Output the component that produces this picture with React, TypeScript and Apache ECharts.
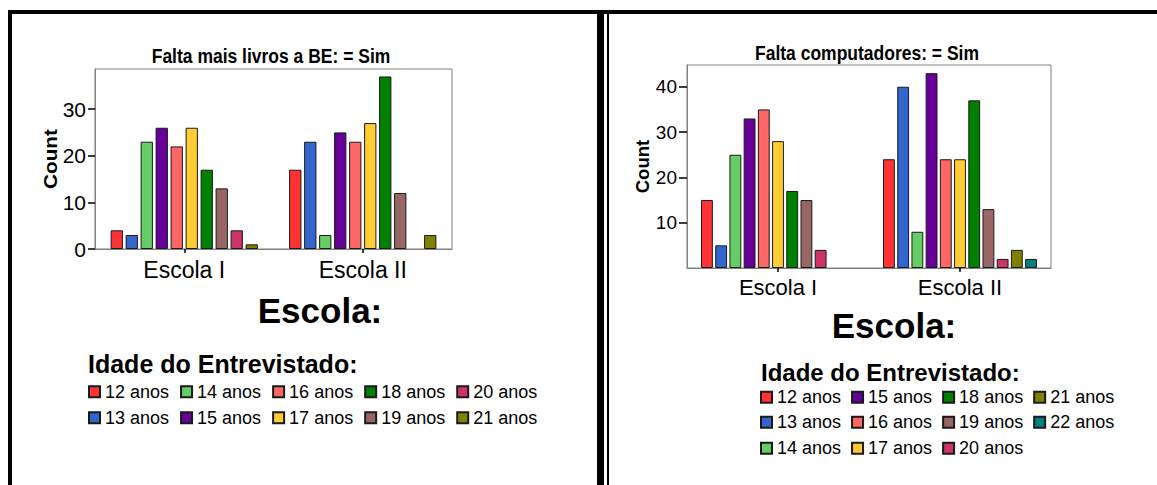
import React, { useEffect, useRef } from "react";
import * as echarts from "echarts";

const FONT = "'Liberation Sans', Arial, sans-serif";

const ages = ["12 anos", "13 anos", "14 anos", "15 anos", "16 anos", "17 anos", "18 anos", "19 anos", "20 anos", "21 anos", "22 anos"];
const ageColors = ["#FF3333", "#3366CC", "#66CC66", "#660099", "#FF6666", "#FFCC33", "#008000", "#996666", "#CC3366", "#808000", "#008080"];
const schools = ["Escola I", "Escola II"];

// Falta mais livros a BE (ages 12..21)
const livrosEscolaI = [4, 3, 23, 26, 22, 26, 17, 13, 4, 1];
const livrosEscolaII = [17, 23, 3, 25, 23, 27, 37, 12, null, 3];
const livrosTicks = [0, 10, 20, 30];

// Falta computadores (ages 12..22)
const compEscolaI = [15, 5, 25, 33, 35, 28, 17, 15, 4, null, null];
const compEscolaII = [24, 40, 8, 43, 24, 24, 37, 13, 2, 4, 2];
const compTicks = [10, 20, 30, 40];

const leftLegendRows = [
  ["12 anos", "14 anos", "16 anos", "18 anos", "20 anos"],
  ["13 anos", "15 anos", "17 anos", "19 anos", "21 anos"],
];
const rightLegendRows = [
  ["12 anos", "15 anos", "18 anos", "21 anos"],
  ["13 anos", "16 anos", "19 anos", "22 anos"],
  ["14 anos", "17 anos", "20 anos"],
];

export default function App() {
  const ref = useRef<HTMLDivElement>(null);

  useEffect(() => {
    if (!ref.current) return;
    const chart = echarts.init(ref.current, undefined, { renderer: "svg" });

    const yAxisBase = (max: number, ticks: number[], fontSize: number, margin: number, tickLen: number) => ({
      type: "value",
      min: 0,
      max,
      splitLine: { show: false },
      axisLine: { show: true, lineStyle: { color: "#808080", width: 1 } },
      axisTick: { show: true, length: tickLen, lineStyle: { color: "#000", width: 1.5 }, customValues: ticks },
      axisLabel: { fontSize, color: "#000", fontFamily: FONT, margin, customValues: ticks },
    });
    const xAxisBase = (gridIndex: number, fontSize: number, margin: number) => ({
      type: "category",
      gridIndex,
      data: schools,
      axisLine: { show: true, lineStyle: { color: "#808080", width: 1 } },
      axisTick: { show: true, alignWithLabel: true, length: 4, lineStyle: { color: "#000", width: 1.5 } },
      axisLabel: { fontSize, color: "#000", fontFamily: FONT, margin },
    });

    const barStyle = (i: number) => ({ color: ageColors[i], borderColor: "#1a1a1a", borderWidth: 1 });

    const series: any[] = [];
    livrosEscolaI.forEach((v, i) => {
      series.push({
        type: "bar",
        name: ages[i],
        xAxisIndex: 0,
        yAxisIndex: 0,
        data: [v, livrosEscolaII[i]],
        barGap: "22%",
        barCategoryGap: "17.5%",
        itemStyle: barStyle(i),
      });
    });
    compEscolaI.forEach((v, i) => {
      series.push({
        type: "bar",
        name: ages[i],
        xAxisIndex: 1,
        yAxisIndex: 1,
        data: [v, compEscolaII[i]],
        barGap: "20%",
        barCategoryGap: "15.4%",
        itemStyle: barStyle(i),
      });
    });

    const legendBase = {
      orient: "horizontal",
      icon: "rect",
      itemWidth: 11,
      itemHeight: 11,
      padding: 0,
      selectedMode: false,
      textStyle: { fontSize: 18, color: "#000", fontFamily: FONT },
    };
    const legends: any[] = [];
    const leftRowCenters = [391.7, 417.7];
    leftLegendRows.forEach((row, r) => {
      legends.push({ ...legendBase, data: row, left: 88, top: leftRowCenters[r] - 9, itemGap: 11 });
    });
    const rightRowCenters = [397.3, 422.3, 448.3];
    rightLegendRows.forEach((row, r) => {
      legends.push({ ...legendBase, data: row, left: 760, top: rightRowCenters[r] - 9, itemGap: 10 });
    });

    const txt = (
      x: number,
      y: number,
      text: string,
      fontSize: number,
      bold: boolean,
      align = "center",
      rotation = 0,
      scaleX = 1,
      scaleY = 1
    ) => ({
      type: "text",
      x,
      y,
      rotation,
      scaleX,
      scaleY,
      style: {
        text,
        fontSize,
        fontWeight: bold ? "bold" : "normal",
        fontFamily: FONT,
        fill: "#000",
        textAlign: align,
        textVerticalAlign: "middle",
      },
    });

    chart.setOption({
      animation: false,
      backgroundColor: "#fff",
      grid: [
        { left: 95, top: 69, width: 357, height: 180, show: true, borderColor: "#808080", borderWidth: 1 },
        { left: 687, top: 65, width: 364, height: 203, show: true, borderColor: "#808080", borderWidth: 1 },
      ],
      xAxis: [xAxisBase(0, 23, 9), xAxisBase(1, 22, 8)],
      yAxis: [
        { ...yAxisBase(38.6, livrosTicks, 21, 9, 7), gridIndex: 0 },
        { ...yAxisBase(44.8, compTicks, 19, 10, 8), gridIndex: 1 },
      ],
      legend: legends,
      series,
      graphic: [
        // frame
        { type: "rect", shape: { x: 8, y: 10, width: 1149, height: 4 }, style: { fill: "#000" } },
        { type: "rect", shape: { x: 8, y: 10, width: 4, height: 475 }, style: { fill: "#000" } },
        { type: "rect", shape: { x: 597, y: 10, width: 7, height: 475 }, style: { fill: "#000" } },
        { type: "rect", shape: { x: 607, y: 10, width: 2, height: 475 }, style: { fill: "#000" } },
        // titles
        txt(271, 55.5, "Falta mais livros a BE: = Sim", 17.5, true, "center", 0, 1, 1.2),
        txt(867, 53, "Falta computadores: = Sim", 17.5, true, "center", 0, 1, 1.12),
        // y names
        txt(50, 159, "Count", 18.5, true, "center", Math.PI / 2, 1.12, 1),
        txt(642.7, 166.5, "Count", 18, true, "center", Math.PI / 2, 1.03, 1),
        // x names
        txt(320, 310.5, "Escola:", 35, true),
        txt(894, 325, "Escola:", 35, true),
        // legend titles
        txt(88, 363.8, "Idade do Entrevistado:", 25, true, "left"),
        txt(761, 372.5, "Idade do Entrevistado:", 24, true, "left"),
      ],
    });

    return () => chart.dispose();
  }, []);

  return (
    <div
      ref={ref}
      style={{ position: "absolute", left: 0, top: 0, width: 1157, height: 485, background: "#fff" }}
    />
  );
}
